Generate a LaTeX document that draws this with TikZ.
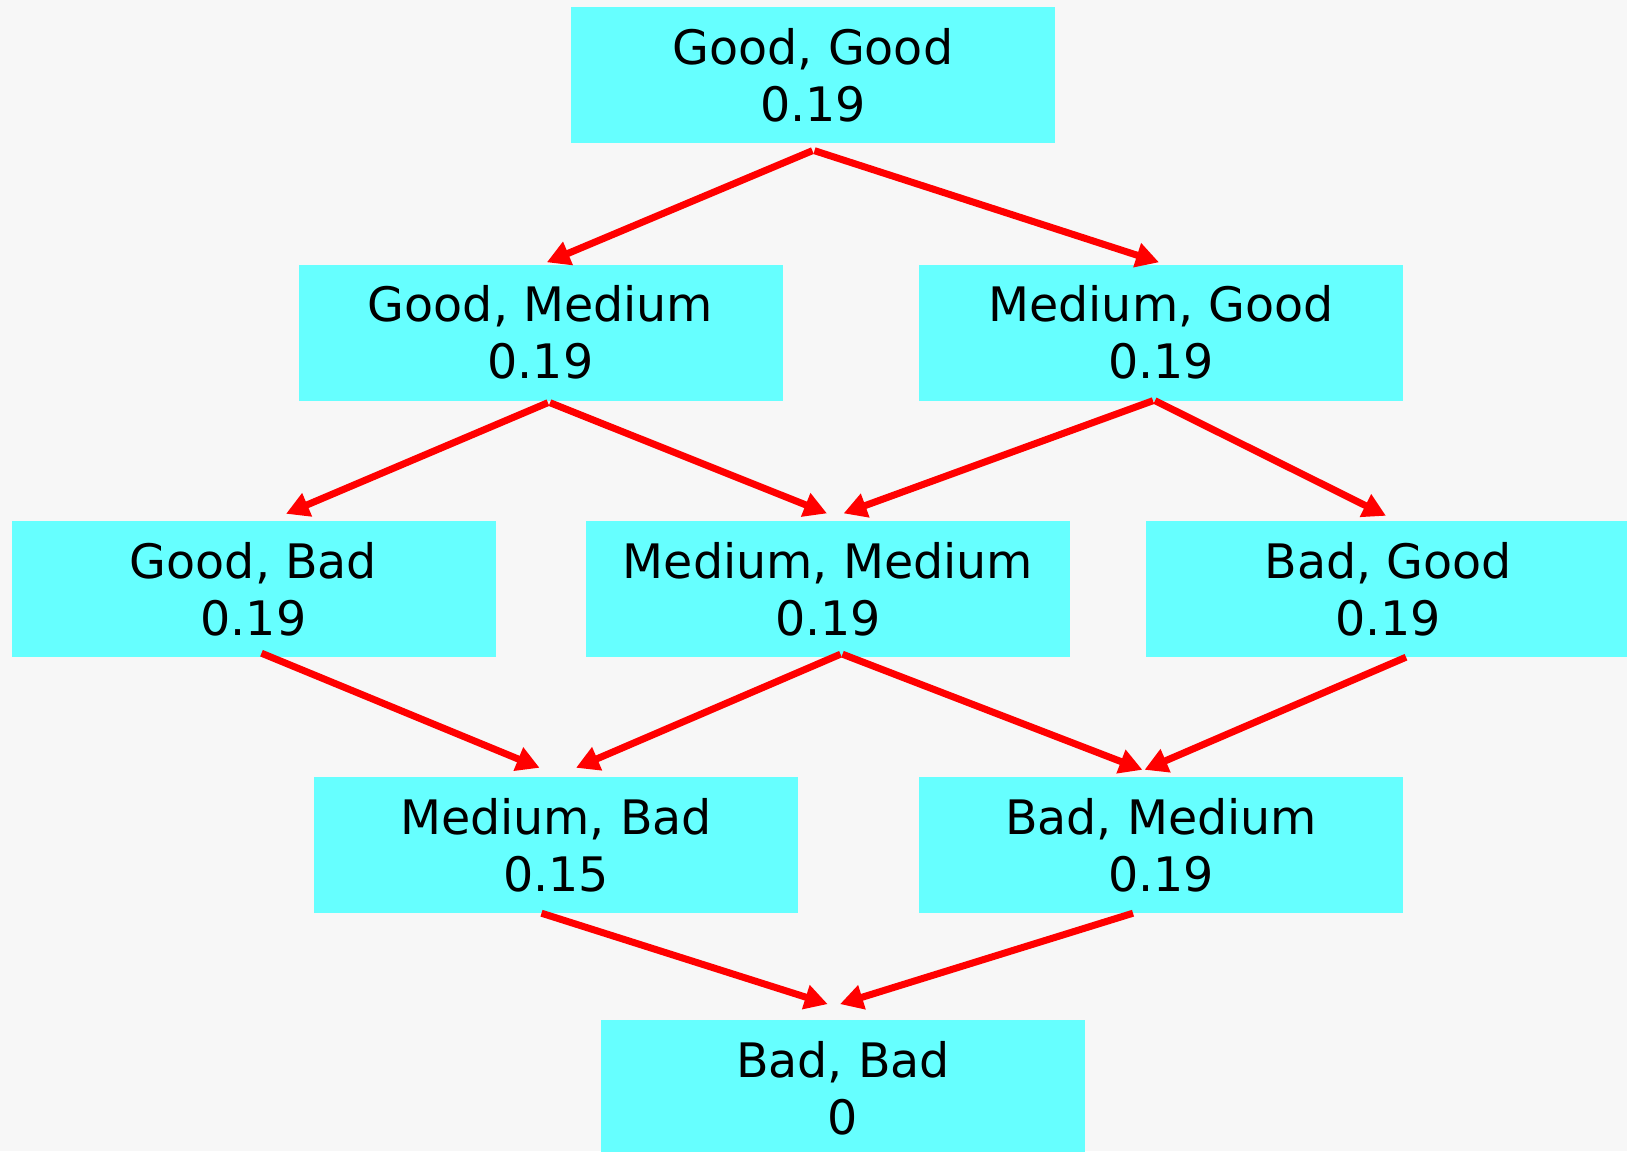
\documentclass[tikz,border=0pt]{standalone}
\usepackage{fontspec}
\setmainfont{DejaVu Sans}
\usetikzlibrary{arrows.meta}
\definecolor{bgc}{HTML}{F7F7F7}
\definecolor{boxc}{HTML}{66FFFF}
\definecolor{arrc}{HTML}{FF0000}
\tikzset{
  state/.style={rectangle, fill=boxc, draw=none, inner sep=0pt,
    minimum width=484pt, minimum height=136pt, align=center,
    font=\fontsize{47.5}{57}\selectfont, text=black},
  arr/.style={draw=arrc, line width=7pt, -{Triangle[length=23pt,width=24pt]}}
}
\begin{document}
\begin{tikzpicture}[x=1pt,y=-1pt]
\fill[bgc] (0,0) rectangle (1627,1151);
\useasboundingbox (0,0) rectangle (1627,1151);
\node[state] (gg) at (813,75) {Good, Good\\0.19};
\node[state] (gm) at (540.5,332.5) {Good, Medium\\0.19};
\node[state] (mg) at (1161,332.5) {Medium, Good\\0.19};
\node[state] (gb) at (253.5,589) {Good, Bad\\0.19};
\node[state] (mm) at (828,589) {Medium, Medium\\0.19};
\node[state] (bg) at (1388,589) {Bad, Good\\0.19};
\node[state] (mb) at (556,845) {Medium, Bad\\0.15};
\node[state] (bm) at (1161,845) {Bad, Medium\\0.19};
\node[state] (bb) at (843,1088) {Bad, Bad\\0};
\draw[arr] ([xshift=-0.6pt,yshift=-7.5pt]gg.south) -- ([xshift=6.3pt,yshift=2pt]gm.north);
\draw[arr] ([xshift=1.5pt,yshift=-7.5pt]gg.south) -- ([xshift=-2pt,yshift=2pt]mg.north);
\draw[arr] ([xshift=7.4pt,yshift=-2pt]gm.south) -- ([xshift=32.5pt,yshift=7pt]gb.north);
\draw[arr] ([xshift=9.5pt,yshift=-2pt]gm.south) -- ([xshift=-1pt,yshift=7.4pt]mm.north);
\draw[arr] ([xshift=-8pt]mg.south) -- ([xshift=15.6pt,yshift=7.4pt]mm.north);
\draw[arr] ([xshift=-6pt]mg.south) -- ([xshift=-2pt,yshift=5pt]bg.north);
\draw[arr] ([xshift=8pt,yshift=4pt]gb.south) -- ([xshift=-16.4pt,yshift=9pt]mb.north);
\draw[arr] ([xshift=12.5pt,yshift=3pt]mm.south) -- ([xshift=20pt,yshift=9pt]mb.north);
\draw[arr] ([xshift=14.5pt,yshift=3pt]mm.south) -- ([xshift=-18.6pt,yshift=7pt]bm.north);
\draw[arr] ([xshift=18pt]bg.south) -- ([xshift=-16.5pt,yshift=7pt]bm.north);
\draw[arr] ([xshift=-14.5pt]mb.south) -- ([xshift=-15.3pt,yshift=15.7pt]bb.north);
\draw[arr] ([xshift=-28pt]bm.south) -- ([xshift=-3pt,yshift=15.7pt]bb.north);
\end{tikzpicture}
\end{document}
